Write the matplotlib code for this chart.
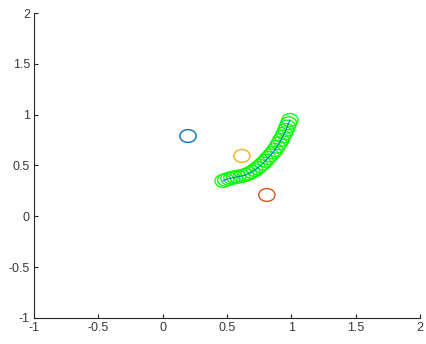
import matplotlib
matplotlib.use("Agg")
import matplotlib.pyplot as plt
from matplotlib.patches import Ellipse

# obstacle circles (centre x, centre y), MATLAB default colours
obs_x = [0.197, 0.616, 0.81]
obs_y = [0.79, 0.594, 0.21]
obs_colors = ["#0072BD", "#EDB120", "#D95319"]
radius = 0.063

# trajectory points
traj_x = [0.469, 0.49, 0.515, 0.538, 0.56, 0.585, 0.616, 0.645, 0.67, 0.694, 0.715,
          0.737, 0.756, 0.778, 0.80, 0.818, 0.838, 0.857, 0.873, 0.889, 0.905, 0.919,
          0.933, 0.946, 0.958, 0.968, 0.979, 0.989]
traj_y = [0.348, 0.36, 0.37, 0.378, 0.384, 0.39, 0.397, 0.408, 0.422, 0.437, 0.455,
          0.475, 0.496, 0.52, 0.547, 0.574, 0.60, 0.627, 0.653, 0.685, 0.718, 0.751,
          0.785, 0.817, 0.850, 0.883, 0.915, 0.948]

xticks = [-1, -0.5, 0, 0.5, 1, 1.5, 2]
yticks = [-1, -0.5, 0, 0.5, 1, 1.5, 2]
xtick_labels = ["-1", "-0.5", "0", "0.5", "1", "1.5", "2"]
ytick_labels = ["-1", "-0.5", "0", "0.5", "1", "1.5", "2"]

fig = plt.figure(figsize=(4.27, 3.44), dpi=100)
ax = fig.add_axes([0.0796, 0.0756, 0.904, 0.8866])

for x, y in zip(traj_x, traj_y):
    ax.add_patch(Ellipse((x, y), 2 * radius, 2 * radius, fill=False,
                         edgecolor="#00FF00", lw=0.9))
ax.plot(traj_x, traj_y, color="#0072BD", lw=0.8)

for x, y, c in zip(obs_x, obs_y, obs_colors):
    ax.add_patch(Ellipse((x, y), 2 * radius, 2 * radius, fill=False,
                         edgecolor=c, lw=1.0))

ax.set_xlim(-1, 2)
ax.set_ylim(-1, 2)
ax.set_xticks(xticks)
ax.set_xticklabels(xtick_labels)
ax.set_yticks(yticks)
ax.set_yticklabels(ytick_labels)
for s in ["top", "right"]:
    ax.spines[s].set_visible(False)
for s in ["left", "bottom"]:
    ax.spines[s].set_color("#262626")
    ax.spines[s].set_linewidth(0.8)
ax.tick_params(direction="in", length=3, width=0.8, colors="#262626",
               labelcolor="#3a3a3a", labelsize=9, pad=3)
for lab in ax.get_xticklabels() + ax.get_yticklabels():
    lab.set_family("Liberation Sans")

fig.savefig("out.png", dpi=100)
